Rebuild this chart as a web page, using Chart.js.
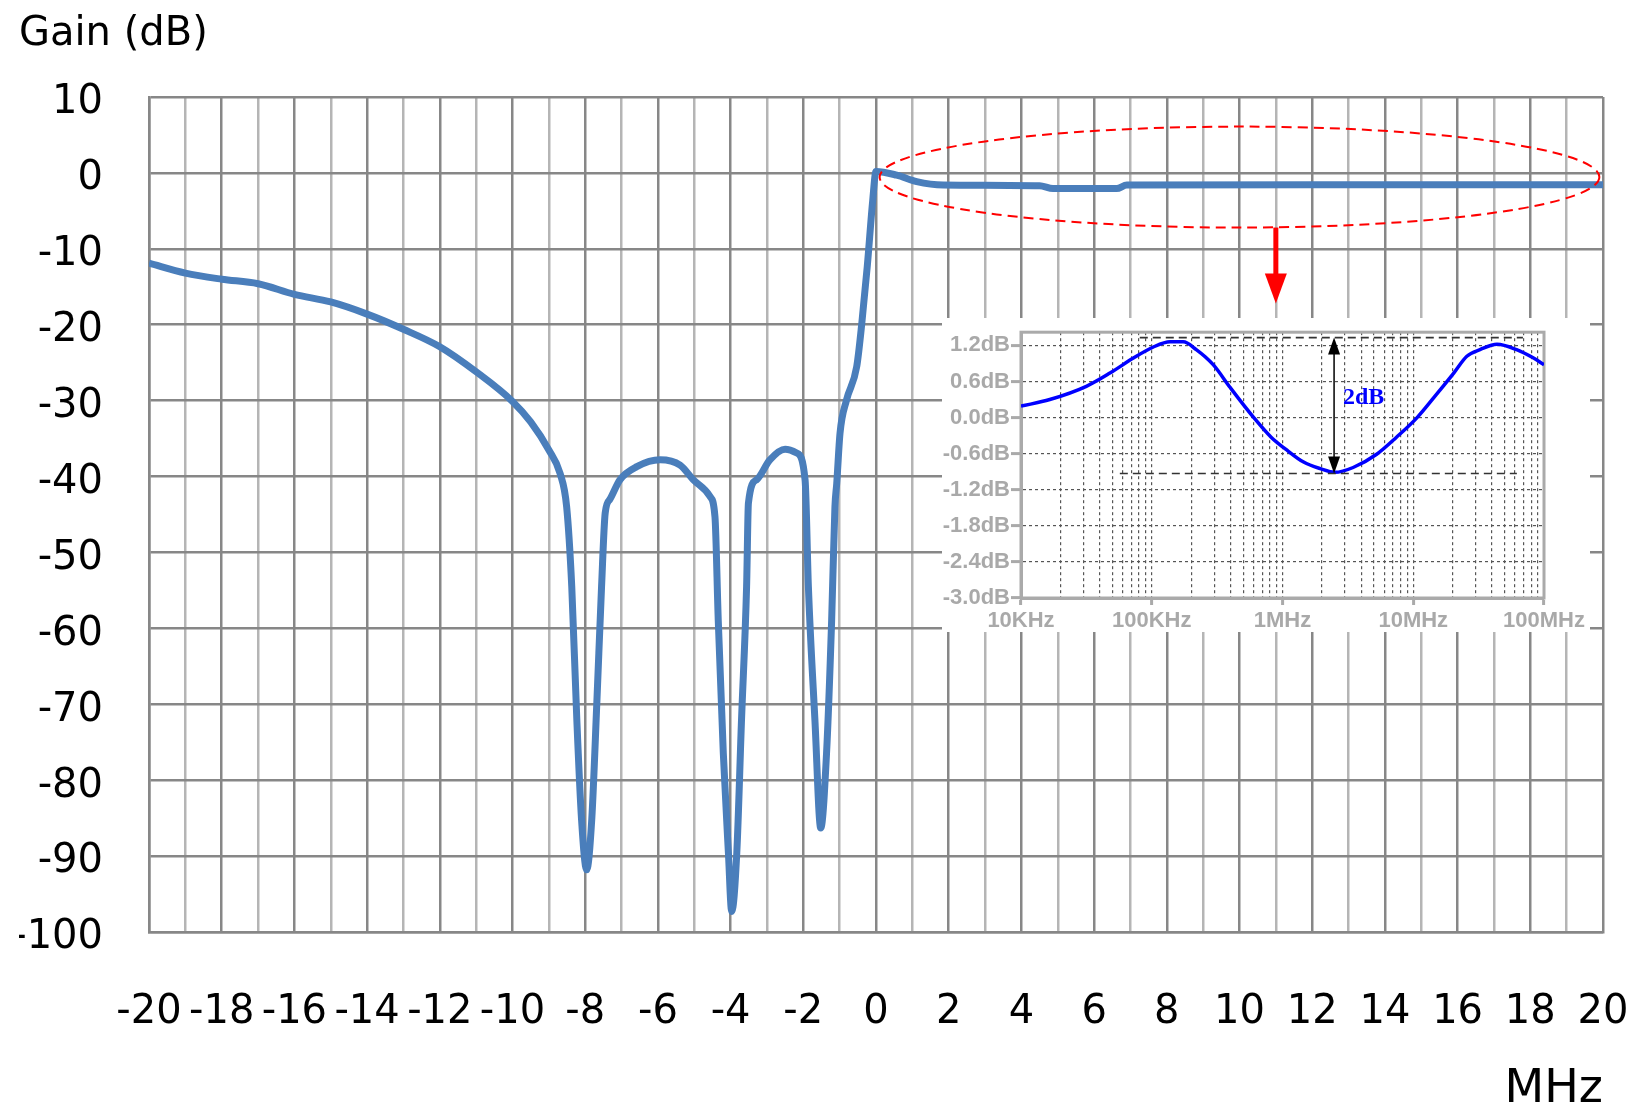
<!DOCTYPE html>
<html>
<head>
<meta charset="utf-8">
<script src="https://cdn.jsdelivr.net/npm/chart.js@4.4.1/dist/chart.umd.min.js"></script>
<style>
  html, body { margin: 0; padding: 0; background: #fff; }
  #wrap { position: relative; width: 1637px; height: 1104px; overflow: hidden; }
  #mainChart { position: absolute; left: 0; top: 0; }
  #insetChart { position: absolute; left: 942px; top: 318px; background: #fff; }
</style>
</head>
<body>
<div id="wrap">
  <canvas id="mainChart" width="1637" height="1104"></canvas>
  <canvas id="insetChart" width="648" height="314"></canvas>
</div>
<script>
// main plot: offset frequency (MHz) vs gain (dB)
const freqMHz = [
  -20, -19, -18, -17, -16, -15, -14, -13, -12, -11,
  -10, -9.5, -9.0, -8.69, -8.51, -8.37, -8.23, -8.1, -7.96, -7.82,
  -7.68, -7.55, -7.45, -7.32, -7.04, -6.58, -5.94, -5.39, -5.03, -4.57,
  -4.43, -4.34, -4.2, -4.06, -3.97, -3.83, -3.7, -3.56, -3.51, -3.28,
  -2.92, -2.5, -2.18, -1.95, -1.86, -1.68, -1.52, -1.36, -1.22, -1.13,
  -1.08, -0.99, -0.81, -0.53, -0.39, -0.24, -0.09, 0, 0.57, 1.12,
  1.85, 4.5, 4.87, 6.62, 6.9, 12, 20
];
const gainDb = [
  -11.9, -13.2, -14.0, -14.6, -16.0, -17.0, -18.6, -20.6, -22.9, -26.2,
  -30.1, -32.8, -36.5, -39.6, -44.0, -54.5, -72.1, -85.2, -91.8, -85.2,
  -69.8, -54.5, -44.8, -43.0, -40.4, -38.7, -37.8, -38.5, -40.4, -42.6,
  -45.3, -58.9, -76.5, -89.6, -97.3, -89.6, -72.1, -54.5, -43.5, -40.4,
  -37.8, -36.4, -36.9, -40.5, -54.5, -72.1, -86.3, -76.4, -58.9, -44.0,
  -40.9, -34.3, -29.9, -25.5, -19.8, -12.3, -3.6, 0.2, -0.3, -1.15,
  -1.6, -1.7, -2.07, -2.07, -1.6, -1.55, -1.55
];

// inset: passband ripple on a log frequency axis
const insetFreqHz = [
  1e4, 1.66e4, 3.16e4, 4.79e4, 7.24e4, 1.02e5, 1.38e5, 1.74e5, 2.19e5, 2.95e5,
  3.98e5, 6.03e5, 8.22e5, 1.05e6, 1.45e6, 1.95e6, 2.51e6, 3.47e6, 5.25e6, 7.41e6,
  1.07e7, 1.51e7, 2.04e7, 2.57e7, 3.24e7, 4.37e7, 6.17e7, 8.32e7, 1e8
];
const insetGainDb = [
  0.19, 0.30, 0.52, 0.74, 0.99, 1.17, 1.26, 1.26, 1.13, 0.88,
  0.50, 0.00, -0.33, -0.52, -0.74, -0.85, -0.91, -0.83, -0.61, -0.33,
  0.00, 0.39, 0.74, 1.02, 1.13, 1.22, 1.13, 0.99, 0.88
];
const insetDecades = [1e4, 1e5, 1e6, 1e7, 1e8];
const insetDecadeLabels = ['10KHz', '100KHz', '1MHz', '10MHz', '100MHz'];
const insetGainTicks = [-3.0, -2.4, -1.8, -1.2, -0.6, 0.0, 0.6, 1.2];

// annotation values
const zoomBox = { xMin: 0.1, xMax: 19.9, yMin: -7.2, yMax: 6.1 };
const zoomArrow = { x: 11, yFrom: -7.2, yTo: -17.2 };
const rippleTop = { db: 1.33, from: 8.1e4, to: 6.9e7 };
const rippleBottom = { db: -0.93, from: 5.7e4, to: 6.2e7 };
const rippleArrowFreq = 2.48e6;
const rippleText = { label: '2dB', freq: 2.9e6, db: 0.33 };

const GRID_DARK = '#878787';
const GRID_LIGHT = '#b5b5b5';

const overlayPlugin = {
  id: 'overlay',
  afterDatasetsDraw(chart) {
    const { ctx, scales: { x, y } } = chart;
    ctx.save();
    // dashed ellipse around the passband
    const x0 = x.getPixelForValue(zoomBox.xMin), x1 = x.getPixelForValue(zoomBox.xMax);
    const y0 = y.getPixelForValue(zoomBox.yMax), y1 = y.getPixelForValue(zoomBox.yMin);
    ctx.beginPath();
    ctx.ellipse((x0 + x1) / 2, (y0 + y1) / 2, (x1 - x0) / 2, (y1 - y0) / 2, 0, 0, Math.PI * 2);
    ctx.setLineDash([10, 6]);
    ctx.strokeStyle = '#ff0000';
    ctx.lineWidth = 2;
    ctx.stroke();
    // red arrow down to the inset
    ctx.setLineDash([]);
    const ax = x.getPixelForValue(zoomArrow.x);
    const ay0 = y.getPixelForValue(zoomArrow.yFrom);
    const ay1 = y.getPixelForValue(zoomArrow.yTo);
    ctx.fillStyle = '#ff0000';
    ctx.fillRect(ax - 2.5, ay0, 5, ay1 - ay0 - 28);
    ctx.beginPath();
    ctx.moveTo(ax - 11, ay1 - 30);
    ctx.lineTo(ax + 11, ay1 - 30);
    ctx.lineTo(ax, ay1);
    ctx.closePath();
    ctx.fill();
    ctx.restore();
  }
};

new Chart(document.getElementById('mainChart'), {
  type: 'line',
  data: {
    datasets: [{
      data: freqMHz.map((f, i) => ({ x: f, y: gainDb[i] })),
      borderColor: '#4a7ebb',
      borderWidth: 7,
      pointRadius: 0,
      cubicInterpolationMode: 'monotone',
      fill: false
    }]
  },
  options: {
    responsive: false,
    animation: false,
    events: [],
    layout: { padding: { left: 19, right: 34, top: 0, bottom: 0 } },
    plugins: {
      legend: { display: false },
      tooltip: { enabled: false },
      title: {
        display: true,
        text: 'Gain (dB)',
        align: 'start',
        color: '#000',
        font: { family: 'DejaVu Sans', size: 40, weight: 'normal' },
        padding: { top: 11, bottom: 38 }
      }
    },
    scales: {
      x: {
        type: 'linear',
        min: -20,
        max: 20,
        afterFit: s => { s.height = 172; s.paddingLeft = 30; s.paddingRight = 30; },
        grid: {
          color: c => (c.tick && c.tick.value % 2 !== 0) ? GRID_LIGHT : GRID_DARK,
          lineWidth: 2.5,
          drawTicks: false
        },
        border: { color: GRID_DARK, width: 2.5 },
        ticks: {
          stepSize: 1,
          autoSkip: false,
          maxRotation: 0,
          padding: 57,
          color: '#000',
          font: { family: 'DejaVu Sans', size: 40 },
          callback: v => (v % 2 === 0 ? String(v) : '')
        },
        title: {
          display: true,
          text: 'MHz',
          align: 'end',
          color: '#000',
          font: { family: 'DejaVu Sans', size: 46, lineHeight: 0.61 },
          padding: 0
        }
      },
      y: {
        min: -100,
        max: 10,
        afterFit: s => { s.width = 130; s.paddingTop = 24; s.paddingBottom = 24; },
        grid: { color: GRID_DARK, lineWidth: 2.5, drawTicks: false },
        border: { color: GRID_DARK, width: 2.5 },
        ticks: {
          stepSize: 10,
          padding: 46,
          labelOffset: 6,
          color: '#000',
          font: { family: 'DejaVu Sans', size: 40 },
          callback: v => String(v)
        }
      }
    }
  },
  plugins: [overlayPlugin]
});

// inset grid positions: 1..9 per decade
const insetGridFreqs = [];
insetDecades.slice(0, -1).forEach(d => {
  for (let m = 1; m <= 9; m++) insetGridFreqs.push(m * d);
});
insetGridFreqs.push(1e8);

const insetPlugin = {
  id: 'insetDecor',
  beforeDatasetsDraw(chart) {
    const { ctx, chartArea: a } = chart;
    ctx.save();
    ctx.strokeStyle = '#aaaaaa';
    ctx.lineWidth = 3;
    ctx.strokeRect(a.left, a.top, a.right - a.left, a.bottom - a.top);
    ctx.restore();
  },
  afterDatasetsDraw(chart) {
    const { ctx, scales: { x, y } } = chart;
    ctx.save();
    ctx.strokeStyle = '#333';
    ctx.lineWidth = 1.6;
    ctx.setLineDash([8, 5]);
    [rippleTop, rippleBottom].forEach(r => {
      const py = y.getPixelForValue(r.db);
      ctx.beginPath();
      ctx.moveTo(x.getPixelForValue(r.from), py);
      ctx.lineTo(x.getPixelForValue(r.to), py);
      ctx.stroke();
    });
    ctx.setLineDash([]);
    const ax = x.getPixelForValue(rippleArrowFreq);
    const top = y.getPixelForValue(rippleTop.db);
    const bot = y.getPixelForValue(rippleBottom.db);
    ctx.strokeStyle = '#000';
    ctx.lineWidth = 1.5;
    ctx.beginPath();
    ctx.moveTo(ax, top + 14);
    ctx.lineTo(ax, bot - 14);
    ctx.stroke();
    ctx.fillStyle = '#000';
    ctx.beginPath();
    ctx.moveTo(ax, top); ctx.lineTo(ax - 6, top + 17); ctx.lineTo(ax + 6, top + 17);
    ctx.closePath(); ctx.fill();
    ctx.beginPath();
    ctx.moveTo(ax, bot); ctx.lineTo(ax - 6, bot - 17); ctx.lineTo(ax + 6, bot - 17);
    ctx.closePath(); ctx.fill();
    ctx.fillStyle = '#0000ff';
    ctx.font = 'bold 24px "Liberation Serif"';
    ctx.textAlign = 'left';
    ctx.textBaseline = 'middle';
    ctx.fillText(rippleText.label, x.getPixelForValue(rippleText.freq), y.getPixelForValue(rippleText.db));
    ctx.restore();
  }
};

const insetTickFont = { family: 'Liberation Sans', size: 22, weight: 'bold' };

new Chart(document.getElementById('insetChart'), {
  type: 'line',
  data: {
    datasets: [{
      data: insetFreqHz.map((f, i) => ({ x: f, y: insetGainDb[i] })),
      borderColor: '#0000ff',
      borderWidth: 3.5,
      pointRadius: 0,
      cubicInterpolationMode: 'monotone',
      fill: false
    }]
  },
  options: {
    responsive: false,
    animation: false,
    events: [],
    layout: { padding: { left: 0, right: 46, top: 0, bottom: 0 } },
    plugins: { legend: { display: false }, tooltip: { enabled: false } },
    scales: {
      x: {
        type: 'logarithmic',
        min: 1e4,
        max: 1e8,
        afterFit: s => { s.height = 34; },
        afterBuildTicks: s => { s.ticks = insetGridFreqs.map(v => ({ value: v })); },
        grid: {
          color: '#555',
          lineWidth: 1.2,
          tickLength: 7,
          tickWidth: 3,
          tickColor: c => (c.tick && insetDecades.includes(c.tick.value)) ? '#aaaaaa' : 'rgba(0,0,0,0)'
        },
        border: { color: '#aaaaaa', width: 3, dash: [3, 3] },
        ticks: {
          autoSkip: false,
          maxRotation: 0,
          padding: 3,
          color: '#a9a9a9',
          font: insetTickFont,
          callback: v => {
            const i = insetDecades.indexOf(v);
            return i >= 0 ? insetDecadeLabels[i] : '';
          }
        }
      },
      y: {
        min: -3.0,
        max: 1.42,
        afterFit: s => { s.width = 79; },
        afterBuildTicks: s => { s.ticks = insetGainTicks.map(v => ({ value: v })); },
        grid: { color: '#555', lineWidth: 1.2, tickLength: 10, tickWidth: 3, tickColor: '#aaaaaa' },
        border: { color: '#aaaaaa', width: 3, dash: [3, 3] },
        ticks: {
          padding: 1,
          color: '#a9a9a9',
          font: insetTickFont,
          callback: v => v.toFixed(1) + 'dB'
        }
      }
    }
  },
  plugins: [insetPlugin]
});
</script>
</body>
</html>
